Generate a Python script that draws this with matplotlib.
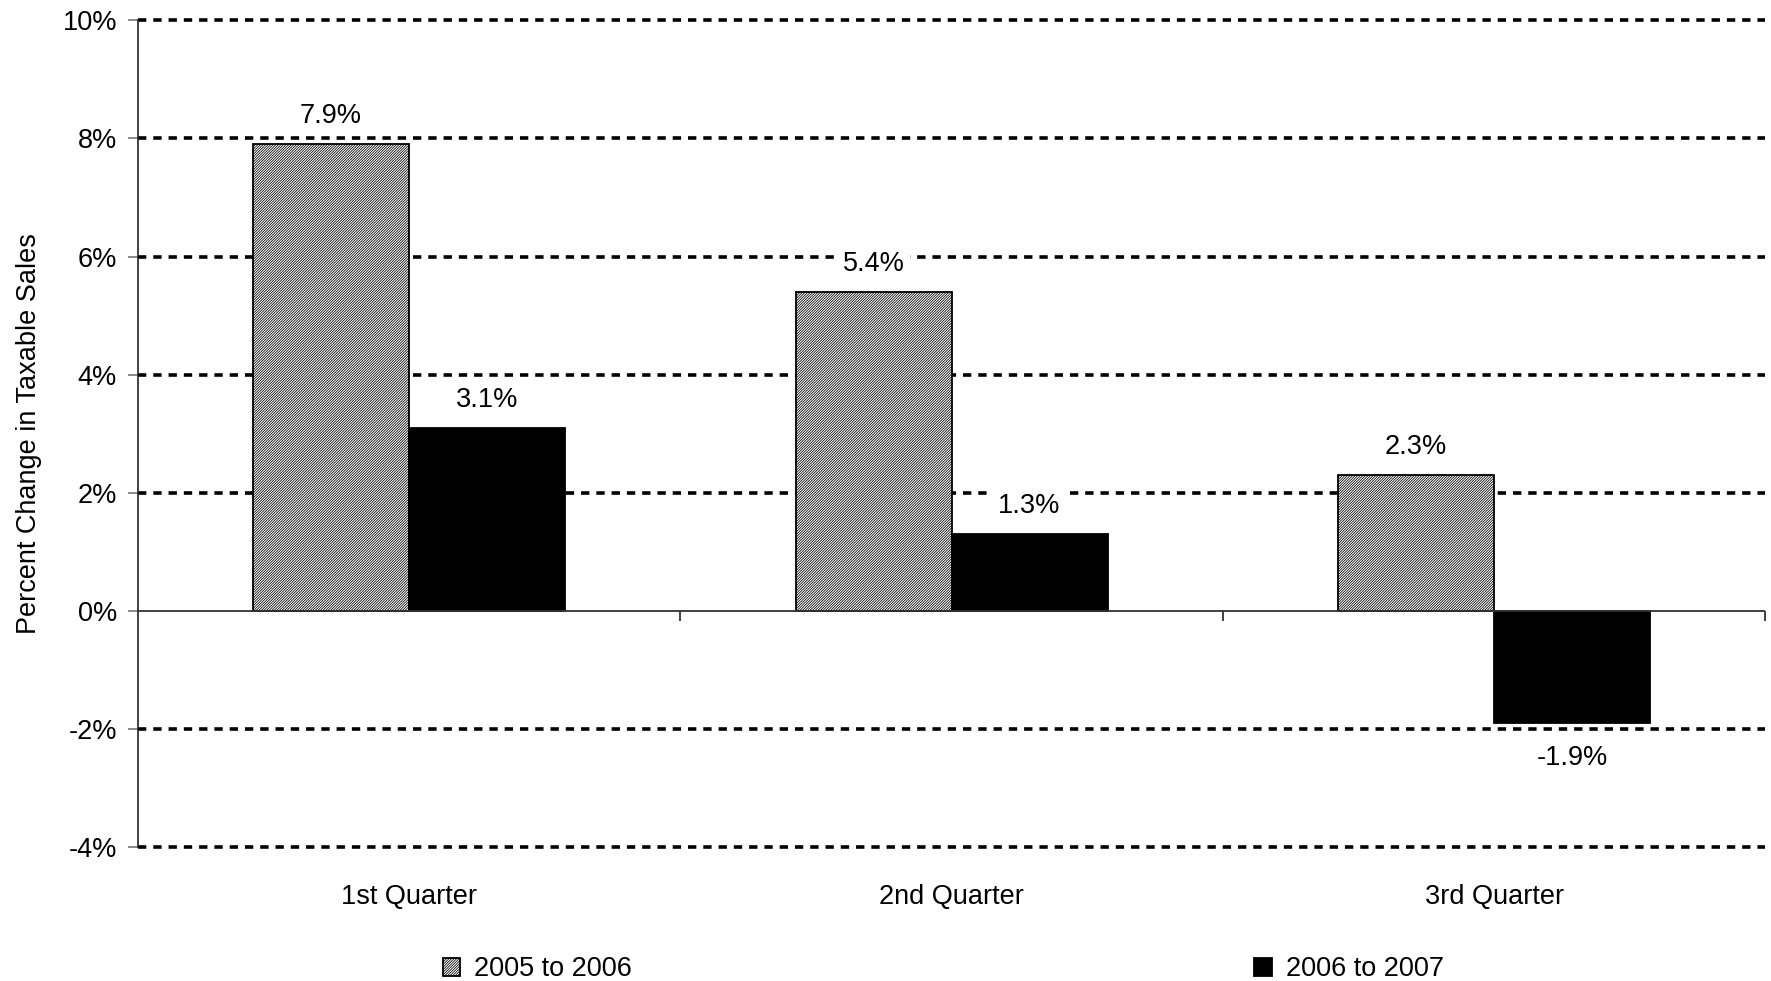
import matplotlib
matplotlib.use('Agg')
import matplotlib.pyplot as plt
import numpy as np

# chart data
quarters = ['1st Quarter', '2nd Quarter', '3rd Quarter']
chg_05_06 = [7.9, 5.4, 2.3]
chg_06_07 = [3.1, 1.3, -1.9]
series_names = ['2005 to 2006', '2006 to 2007']
yticks = [-4, -2, 0, 2, 4, 6, 8, 10]

plt.rcParams['font.family'] = ['Liberation Sans Narrow', 'Liberation Sans', 'DejaVu Sans']
plt.rcParams['hatch.linewidth'] = 0.55
plt.rcParams['hatch.color'] = '#111111'
plt.rcParams['lines.scale_dashes'] = False
fs = 19.5

fig = plt.figure(figsize=(17.71, 9.81), dpi=100)
ax = fig.add_axes([0.0778, 0.1366, 0.9190, 0.8426])

x = np.arange(len(quarters))
w = 0.2875
b1 = ax.bar(x - w/2, chg_05_06, w, facecolor='white', edgecolor='black',
            hatch='/' * 13, linewidth=1.3, label=series_names[0], zorder=3)
b2 = ax.bar(x + w/2, chg_06_07, w, facecolor='black', edgecolor='black',
            linewidth=1.3, label=series_names[1], zorder=3)

# value labels, white box hides the dotted grid behind them
for xs, vals in [(x - w/2, chg_05_06), (x + w/2, chg_06_07)]:
    for xi, v in zip(xs, vals):
        off = 11 if v >= 0 else -16
        ax.annotate('%.1f%%' % v, (xi, v), xytext=(0, off), textcoords='offset points',
                    ha='center', va='bottom' if v >= 0 else 'top', fontsize=fs, zorder=5,
                    bbox=dict(facecolor='white', edgecolor='none', pad=4))

ax.set_xlim(-0.5, len(quarters) - 0.5)
ax.set_ylim(-4, 10)

# dotted grid, no line at zero
for yv in yticks:
    if yv != 0:
        ax.axhline(yv, color='black', lw=2.6, linestyle=(0, (6.0, 5.0)), zorder=1, clip_on=False)
ax.axhline(0, color='#333333', lw=1.3, zorder=4)
# category separators hanging below zero line
ax.vlines(np.arange(1, len(quarters) + 1) - 0.5, -0.17, 0, color='#333333', lw=1.3, zorder=4,
          clip_on=False)

ax.set_yticks(yticks)
ax.set_yticklabels(['%d%%' % v for v in yticks], fontsize=fs)
ax.tick_params(axis='y', direction='out', length=7, width=1.2, color='#777777', pad=8)
ax.set_xticks(x)
ax.set_xticklabels(quarters, fontsize=fs)
ax.tick_params(axis='x', length=0, pad=27)

for s in ['top', 'right', 'bottom']:
    ax.spines[s].set_visible(False)
ax.spines['left'].set_linewidth(1.2)
ax.spines['left'].set_color('#222222')

ax.set_ylabel('Percent Change in Taxable Sales', fontsize=fs)
ax.yaxis.set_label_coords(-0.059, 0.5)

fig.legend(handles=[b1, b2], loc='center', bbox_to_anchor=(0.5325, 0.012), ncol=2,
           frameon=False, fontsize=fs, handlelength=0.65, handleheight=0.65,
           handletextpad=0.5, columnspacing=23.0, borderaxespad=0, borderpad=0)

plt.savefig('out.png', dpi=100)
